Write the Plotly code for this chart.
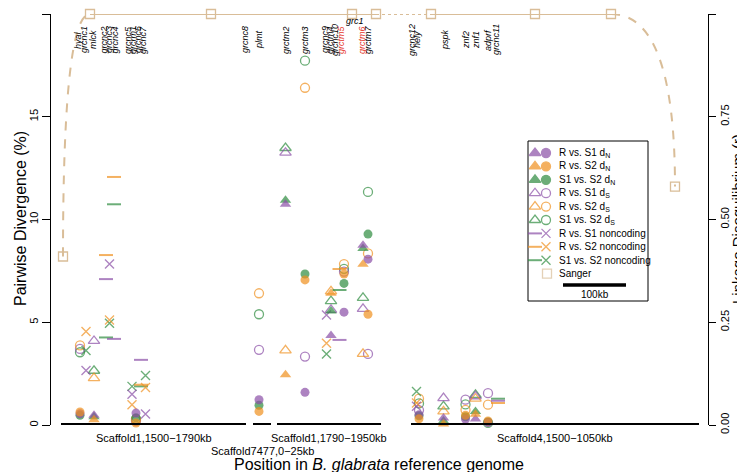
import plotly.graph_objects as go

# ---------------- data ----------------
PURPLE = "#8A4FA6"
ORANGE = "#F0901E"
GREEN = "#2E8B3F"
TAN = "#D9BD98"
RED = "#E5342A"

comparisons = ["R vs. S1", "R vs. S2", "S1 vs. S2"]
comp_colors = [PURPLE, ORANGE, GREEN]

# coding genes (position along the concatenated scaffold track)
gene_names = ["hyal", "mlck", "grcrm1", "plmt", "grctm2", "grctm3", "grctm4", "grctm5",
              "grctm6", "grctm7", "hely", "pspk", "znf2", "znf1", "adprf"]
gene_pos = [72, 86, 128, 251, 277.5, 297, 323, 336, 355, 360, 411, 435.5, 457.5, 467.5, 480]
gene_shape = ["circle", "triangle-up", "circle", "circle", "triangle-up", "circle", "triangle-up",
              "circle", "triangle-up", "circle", "circle", "triangle-up", "circle", "triangle-up", "circle"]
dN_R_S1 = [0.55, 0.47, 0.58, 1.23, 10.74, 1.59, 4.35, 5.49, 8.75, 8.07, 0.50, 0.34, 0.29, 0.29, 0.12]
dN_R_S2 = [0.63, 0.26, 0.10, 0.66, 2.44, 7.06, 6.41, 7.35, 7.82, 5.39, 0.30, 0.05, 0.47, 0.52, 0.20]
dN_S1_S2 = [0.47, 0.40, 0.35, 0.96, 10.94, 7.35, 5.55, 6.89, 8.59, 9.29, 0.45, 0.20, 0.40, 0.66, 0.15]
dS_R_S1 = [3.70, 4.09, 0.20, 3.66, 13.25, 3.33, 5.60, 7.46, 5.65, 3.46, 0.72, 1.31, 1.23, 1.40, 1.55]
dS_R_S2 = [3.87, 2.28, 0.25, 6.41, 3.63, 16.41, 6.50, 7.83, 3.46, 8.35, 1.28, 0.66, 0.74, 1.28, 0.99]
dS_S1_S2 = [3.54, 2.64, 0.30, 5.39, 13.48, 17.73, 6.03, 7.60, 6.19, 11.34, 1.05, 0.91, 1.00, 1.47, 0.10]

# noncoding regions
nc_names = ["grcnc1", "grcnc2", "grcnc3", "grcnc4", "grcnc5", "grcnc6", "grcnc7",
            "grcnc9", "grcnc10", "grcnc12", "grcnc11"]
nc_pos = [78, 98, 101.5, 106, 124, 133, 137.5, 318.5, 331.5, 408.5, 490]
nc_shape = ["x", "dash", "x", "dash", "x", "dash", "x", "x", "dash", "x", "dash"]
nc_R_S1 = [2.65, 7.10, 7.83, 4.19, 1.50, 3.17, 0.53, 5.35, 4.14, 0.91, 1.18]
nc_R_S2 = [4.55, 8.27, 5.11, 12.07, 0.99, 1.96, 1.83, 3.98, 7.59, 1.07, 1.07]
nc_S1_S2 = [3.62, 4.26, 4.95, 10.74, 1.88, 1.88, 2.41, 3.45, 6.57, 1.63, 1.28]

# Sanger linkage disequilibrium
sanger_pos = [55, 82, 203, 344, 368, 423, 527, 603, 667]
sanger_r = [0.41, 1.0, 1.0, 1.0, 1.0, 1.0, 1.0, 1.0, 0.58]
sanger_seg = ["curve", "solid", "solid", "solid", "dot", "solid", "solid", "curve"]

# gene labels along the top
label_names = ["hyal", "grcnc1", "mlck", "grcnc2", "grcnc3", "grcnc4", "grcnc5", "grcrm1", "grcnc6",
               "grcnc7", "grcnc8", "plmt", "grctm2", "grctm3", "grcnc9", "grctm4", "grcnc10",
               "grctm5", "grctm6", "grctm7", "grcnc12", "hely", "pspk", "znf2", "znf1", "adprf", "grcnc11"]
label_pos = [70, 76, 85, 95.5, 101, 106.5, 120, 125, 130, 135, 237, 251, 278, 297, 317, 322, 327,
             333, 354, 360, 404, 409, 437, 458, 468, 480, 488]
label_red = ["grctm5", "grctm6"]

# scaffolds (start, end along the track) and names
scaf_start = [53, 245, 269, 403]
scaf_end = [238, 263, 373, 691]
scaf_names = ["Scaffold1,1500\u22121790kb", "Scaffold7477,0\u221225kb",
              "Scaffold1,1790\u22121950kb", "Scaffold4,1500\u22121050kb"]
scaf_label_row = [0, 1, 0, 0]
scale_bar_kb = 100
track_units_per_kb = 0.63

FONT = "Liberation Sans, Arial, Helvetica, sans-serif"

# plot-area geometry (pixels) used for paper-referenced text
PL, PR, PT, PB = 43, 700, 6, 417


def px(xp):
    return (xp - PL) / (PR - PL)


def py(yp):
    return (PB - yp) / (PB - PT)


# ---------------- figure ----------------
fig = go.Figure()

SYM_FILLED = {"circle": "circle", "triangle-up": "triangle-up"}
SYM_OPEN = {"circle": "circle-open", "triangle-up": "triangle-up-open"}
SYM_NC = {"x": "x-thin-open", "dash": "line-ew-open"}
SIZE = {"circle": 9, "triangle-up": 10}

dN = [dN_R_S1, dN_R_S2, dN_S1_S2]
dS = [dS_R_S1, dS_R_S2, dS_S1_S2]
nc = [nc_R_S1, nc_R_S2, nc_S1_S2]

order = [2, 0, 1]
for ci in order:
    col = comp_colors[ci]
    fig.add_trace(go.Scatter(
        x=gene_pos, y=dS[ci], mode="markers", cliponaxis=False, showlegend=False,
        marker=dict(symbol=[SYM_OPEN[s] for s in gene_shape], size=[SIZE[s] for s in gene_shape],
                    color=col, line=dict(color=col, width=1.3))))
for ci in order:
    col = comp_colors[ci]
    fig.add_trace(go.Scatter(
        x=nc_pos, y=nc[ci], mode="markers", cliponaxis=False, showlegend=False,
        marker=dict(symbol=[SYM_NC[s] for s in nc_shape], size=[9 if s == "x" else 10 for s in nc_shape],
                    color=col, line=dict(color=col, width=[1.4 if s == "x" else 2 for s in nc_shape]))))
for ci in order:
    col = comp_colors[ci]
    fig.add_trace(go.Scatter(
        x=gene_pos, y=dN[ci], mode="markers", cliponaxis=False, showlegend=False,
        marker=dict(symbol=[SYM_FILLED[s] for s in gene_shape], size=[SIZE[s] for s in gene_shape],
                    color=col, line=dict(width=0))))

# Sanger LD: straight segments (solid/dot) and curved dashed connectors
shapes = []
for i, seg in enumerate(sanger_seg):
    x0, y0, x1, y1 = sanger_pos[i], sanger_r[i], sanger_pos[i + 1], sanger_r[i + 1]
    if seg == "curve":
        cx, cy = (x0, y1) if y1 > y0 else (x1, y0)
        shapes.append(dict(type="path", xref="x", yref="y2",
                           path=f"M {x0},{y0} Q {cx},{cy} {x1},{y1}",
                           line=dict(color=TAN, width=2, dash="dash"), layer="below"))
    else:
        fig.add_trace(go.Scatter(x=[x0, x1], y=[y0, y1], yaxis="y2", mode="lines", cliponaxis=False,
                                 showlegend=False, hoverinfo="skip",
                                 line=dict(color=TAN, width=2, dash="solid" if seg == "solid" else "dot")))
fig.add_trace(go.Scatter(x=sanger_pos, y=sanger_r, yaxis="y2", mode="markers", cliponaxis=False,
                         showlegend=False,
                         marker=dict(symbol="square-open", size=9, color=TAN, line=dict(color=TAN, width=1.3))))

# scaffold bars along y = 0
for s0, s1 in zip(scaf_start, scaf_end):
    shapes.append(dict(type="line", xref="x", yref="y", x0=s0, x1=s1, y0=0, y1=0,
                       line=dict(color="black", width=4)))

annotations = []
for s0, s1, nm, row in zip(scaf_start, scaf_end, scaf_names, scaf_label_row):
    annotations.append(dict(x=px((s0 + s1) / 2), y=py(430 + 13 * row), xref="paper", yref="paper",
                            text=nm, showarrow=False, font=dict(size=11, family=FONT, color="black"),
                            xanchor="center", yanchor="middle"))

for nm, xp in zip(label_names, label_pos):
    annotations.append(dict(x=xp, y=32, xref="x", yref="y3", text=f"<i>{nm}</i>", showarrow=False,
                            textangle=-90, xanchor="center", yanchor="middle",
                            font=dict(size=9, family=FONT, color=RED if nm in label_red else "black")))
annotations.append(dict(x=347, y=13, xref="x", yref="y3", text="<i>grc1</i>", showarrow=False,
                        font=dict(size=9, family=FONT, color="black")))

# axis titles
annotations.append(dict(x=px(371), y=py(456), xref="paper", yref="paper",
                        text="Position in <i>B. glabrata</i> reference genome", showarrow=False,
                        xanchor="center", yanchor="middle",
                        font=dict(size=16, family=FONT, color="black")))
annotations.append(dict(x=px(13), y=py(211), xref="paper", yref="paper",
                        text="Pairwise Divergence (%)", showarrow=False, textangle=-90,
                        xanchor="center", yanchor="middle",
                        font=dict(size=16, family=FONT, color="black")))
annotations.append(dict(x=px(730), y=py(211), xref="paper", yref="paper",
                        text="Linkage Disequilibrium (r)", showarrow=False, textangle=-90,
                        xanchor="center", yanchor="middle",
                        font=dict(size=15, family=FONT, color="black")))

# ---------------- manual legend (pixel-like overlay axes x3/y3) ----------------
LX0, LX1, LY0, LY1 = 520, 640, 133, 293
shapes.append(dict(type="rect", xref="x3", yref="y3", x0=LX0, x1=LX1, y0=LY0, y1=LY1,
                   line=dict(color="black", width=1), fillcolor="white", layer="below"))
rows_y = [145 + 13.4 * i for i in range(10)]
leg_text = ["R vs. S1 d<sub>N</sub>", "R vs. S2 d<sub>N</sub>", "S1 vs. S2 d<sub>N</sub>",
            "R vs. S1 d<sub>S</sub>", "R vs. S2 d<sub>S</sub>", "S1 vs. S2 d<sub>S</sub>",
            "R vs. S1 noncoding", "R vs. S2 noncoding", "S1 vs. S2 noncoding", "Sanger"]
lx, ly, lsym, lcol, lsize, lw = [], [], [], [], [], []
for i in range(9):
    col = comp_colors[i % 3]
    kind = i // 3
    pair = [("triangle-up", "circle"), ("triangle-up-open", "circle-open"), ("line-ew-open", "x-thin-open")][kind]
    for j, sym in enumerate(pair):
        lx.append(527 + 11 * j)
        ly.append(rows_y[i])
        lsym.append(sym)
        lcol.append(col)
        lsize.append(10 if ("triangle" in sym or "line" in sym) else 9)
        lw.append(2 if "line" in sym else 1.3)
lx.append(539); ly.append(rows_y[9]); lsym.append("square-open"); lcol.append(TAN); lsize.append(9); lw.append(1.3)
fig.add_trace(go.Scatter(x=lx, y=ly, xaxis="x3", yaxis="y3", mode="markers", showlegend=False,
                         cliponaxis=False, hoverinfo="skip",
                         marker=dict(symbol=lsym, size=lsize, color=lcol, line=dict(color=lcol, width=lw))))
for i, t in enumerate(leg_text):
    annotations.append(dict(x=549, y=rows_y[i], xref="x3", yref="y3", text=t, showarrow=False,
                            xanchor="left", yanchor="middle",
                            font=dict(size=10, family=FONT, color="black")))
bar_len = scale_bar_kb * track_units_per_kb
shapes.append(dict(type="line", xref="x3", yref="y3", x0=555, x1=555 + bar_len, y0=277, y1=277,
                   line=dict(color="black", width=3.5)))
annotations.append(dict(x=555 + bar_len / 2, y=286, xref="x3", yref="y3", text=f"{scale_bar_kb}kb",
                        showarrow=False, font=dict(size=10, family=FONT, color="black")))

fig.update_layout(
    width=745, height=472, margin=dict(l=PL, r=745 - PR, t=PT, b=472 - PB),
    paper_bgcolor="white", plot_bgcolor="white", showlegend=False,
    font=dict(family=FONT, color="black"),
    xaxis=dict(range=[PL, PR], visible=False, fixedrange=True),
    yaxis=dict(range=[0, 20], tickvals=[0, 5, 10, 15, 20], tickangle=-90, ticks="outside", ticklen=8,
               tickcolor="black", showline=True, linecolor="black", linewidth=1, showgrid=False,
               zeroline=False, tickfont=dict(size=11, family=FONT)),
    yaxis2=dict(range=[0, 1], overlaying="y", side="right", tickvals=[0, 0.25, 0.5, 0.75, 1.0],
                ticktext=["0.00", "0.25", "0.50", "0.75", "1.00"], tickangle=-90, ticks="outside",
                ticklen=7, tickcolor="black", showline=True, linecolor="black", linewidth=1,
                showgrid=False, zeroline=False, tickfont=dict(size=11, family=FONT)),
    xaxis3=dict(range=[PL, PR], overlaying="x", visible=False),
    yaxis3=dict(range=[PB, PT], overlaying="y", visible=False),
    shapes=shapes, annotations=annotations,
)

fig.write_html("out.html")
